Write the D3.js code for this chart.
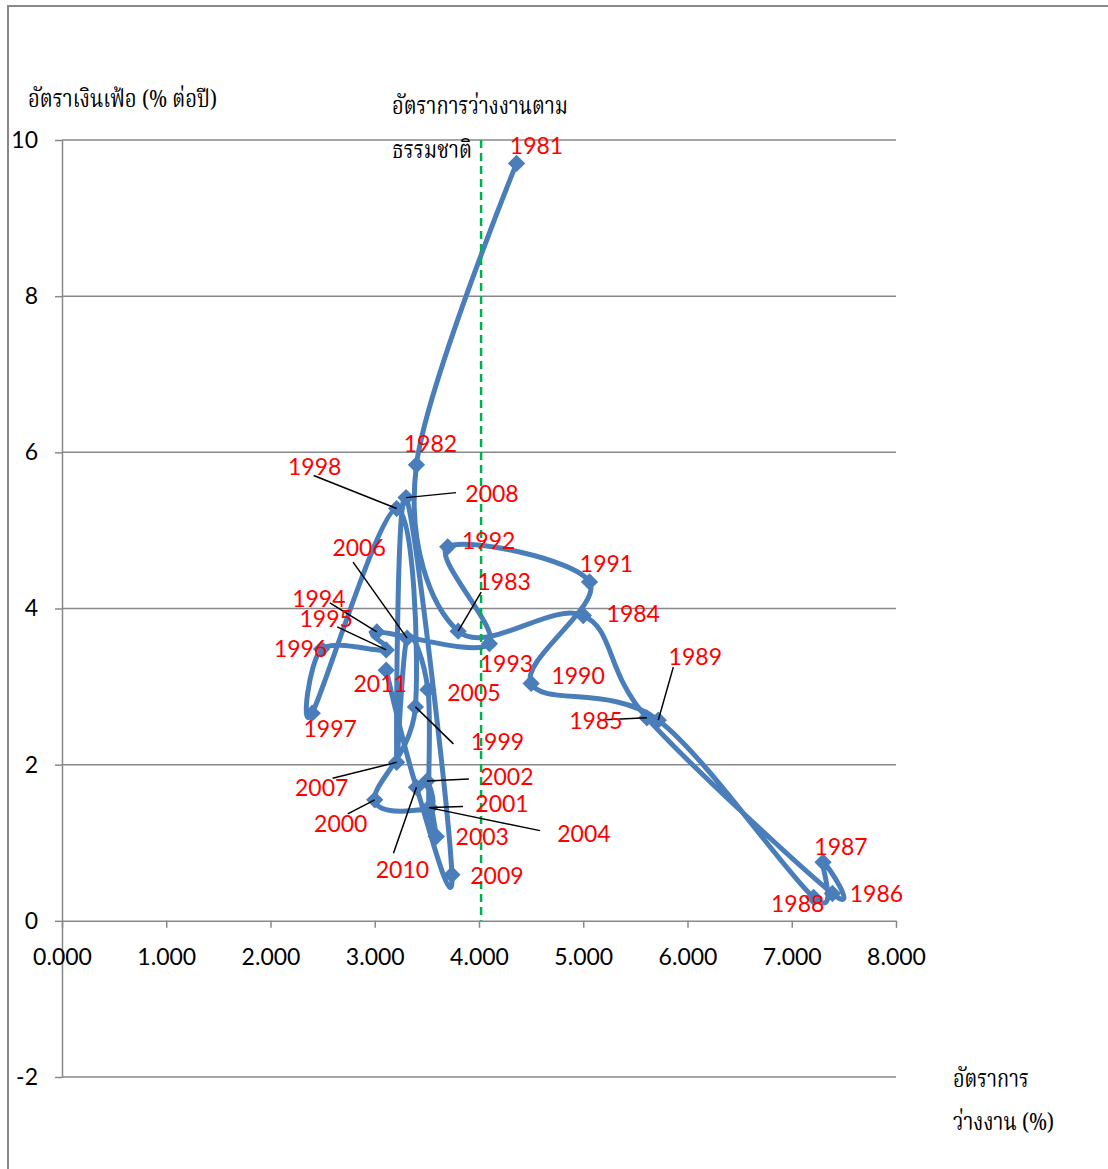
<!DOCTYPE html>
<html>
<head>
<meta charset="utf-8">
<script src="https://cdn.jsdelivr.net/npm/d3@7"></script>
<style>
  html, body { margin: 0; padding: 0; background: #fff; }
  svg { display: block; }
  .num { font-family: Lato, "Open Sans", "Liberation Sans", sans-serif; }
  .thai { font-family: "Noto Serif Thai", "Kinnari", "Norasi", "TH Sarabun New", "Angsana New", "Noto Sans Thai", "Garuda", "Loma", serif; fill: #000; }
</style>
</head>
<body>
<svg id="chart" width="1108" height="1169"></svg>
<script>
// Unemployment rate (%) and inflation (% per year), 1981–2011
const years = [1981,1982,1983,1984,1985,1986,1987,1988,1989,1990,
               1991,1992,1993,1994,1995,1996,1997,1998,1999,2000,
               2001,2002,2003,2004,2005,2006,2007,2008,2009,2010,2011];
const unemployment = [4.36,3.40,3.80,5.00,5.61,7.39,7.30,7.21,5.72,4.50,
                      5.06,3.70,4.10,3.02,3.11,2.49,2.40,3.21,3.39,3.00,
                      3.53,3.50,3.59,3.52,3.51,3.31,3.21,3.30,3.74,3.40,3.11];
const inflation = [9.70,5.84,3.71,3.91,2.60,0.35,0.75,0.30,2.57,3.04,
                   4.34,4.79,3.55,3.70,3.47,3.48,2.66,5.28,2.74,1.55,
                   1.45,1.79,1.08,1.45,2.96,3.62,2.03,5.42,0.59,1.71,3.21];
const naturalRate = 4.02;

const xTicks = [0,1,2,3,4,5,6,7,8];
const yTicks = [-2,0,2,4,6,8,10];

const yTitle = "อัตราเงินเฟ้อ (% ต่อปี)";
const naturalTitle = ["อัตราการว่างงานตาม", "ธรรมชาติ"];
const xTitle = ["อัตราการ", "ว่างงาน (%)"];

// label placement: [dx, dy] of the label centre from its marker,
// optional [lx, ly] start of a leader line relative to the label centre
const labelPlace = {
  1981:[20,-18], 1982:[14,-21], 1983:[46,-49,-23,10], 1984:[50,-2],
  1985:[-51,3,9,-1], 1986:[44,0], 1987:[18,-16], 1988:[-16,6],
  1989:[37,-63,-22,10], 1990:[47,-8], 1991:[17,-18], 1992:[41,-6],
  1993:[17,20], 1994:[-58,-33,11,4], 1995:[-60,-31,11,8], 1996:[-21,0],
  1997:[18,16], 1998:[-82,-42,-1,9], 1999:[82,35,-44,2], 2000:[-34,24,7,-10],
  2001:[72,-4,-39,3], 2002:[80,-4,-38,2], 2003:[46,0], 2004:[155,26,-44,-3],
  2005:[46,3], 2006:[-48,-90,-6,14], 2007:[-75,25,11,-9], 2008:[86,-4,-36,-1],
  2009:[45,1], 2010:[-14,82,-9,-16], 2011:[-6,14]
};

const points = years.map((yr, i) => ({year: yr, u: unemployment[i], p: inflation[i]}));

const svg = d3.select("#chart");
const x = d3.scaleLinear().domain([0, 8]).range([62, 896]);
const y = d3.scaleLinear().domain([-2, 10]).range([1077, 140]);

const gridColor = "#898989";

// outer frame
svg.append("rect")
  .attr("x", 8).attr("y", 6).attr("width", 1300).attr("height", 1300)
  .attr("fill", "none").attr("stroke", gridColor).attr("stroke-width", 2);

// horizontal gridlines
svg.append("g").selectAll("line")
  .data(yTicks.filter(d => d !== 0))
  .join("line")
  .attr("x1", x(0)).attr("x2", x(8))
  .attr("y1", d => y(d)).attr("y2", d => y(d))
  .attr("stroke", gridColor).attr("stroke-width", 1.5);

// y axis
const yAxis = svg.append("g")
  .attr("transform", `translate(${x(0)},0)`)
  .call(d3.axisLeft(y).tickValues(yTicks).tickSize(7).tickSizeOuter(0).tickPadding(17)
        .tickFormat(d => String(d)));
yAxis.select(".domain").attr("stroke", gridColor).attr("stroke-width", 1.5);
yAxis.selectAll(".tick line").attr("stroke", gridColor).attr("stroke-width", 1.5);
yAxis.selectAll(".tick text").attr("class", "num").attr("font-size", 23).attr("fill", "#000");

// x axis through zero inflation
const xAxis = svg.append("g")
  .attr("transform", `translate(0,${y(0)})`)
  .call(d3.axisBottom(x).tickValues(xTicks).tickSize(7).tickSizeOuter(0).tickPadding(21)
        .tickFormat(d3.format(".3f")));
xAxis.select(".domain").attr("stroke", gridColor).attr("stroke-width", 1.5);
xAxis.selectAll(".tick line").attr("stroke", gridColor).attr("stroke-width", 1.5);
xAxis.selectAll(".tick text").attr("class", "num").attr("font-size", 23).attr("fill", "#000");

// smoothed path through the yearly points
const line = d3.line()
  .x(d => x(d.u)).y(d => y(d.p))
  .curve(d3.curveCatmullRom.alpha(0));
svg.append("path")
  .datum(points)
  .attr("d", line)
  .attr("fill", "none")
  .attr("stroke", "#4a7ebb")
  .attr("stroke-width", 5)
  .attr("stroke-linejoin", "round");

// natural rate of unemployment
svg.append("line")
  .attr("x1", x(naturalRate)).attr("x2", x(naturalRate))
  .attr("y1", y(10)).attr("y2", y(0))
  .attr("stroke", "#00b050").attr("stroke-width", 2.5)
  .attr("stroke-dasharray", "8,5");

// diamond markers
const diamond = d3.symbol().type(d3.symbolSquare).size(150);
svg.append("g").selectAll("path")
  .data(points)
  .join("path")
  .attr("d", diamond)
  .attr("transform", d => `translate(${x(d.u)},${y(d.p)}) rotate(45)`)
  .attr("fill", "#4a7ebb");

// leader lines
svg.append("g").selectAll("line")
  .data(points.filter(d => labelPlace[d.year].length > 2))
  .join("line")
  .attr("x1", d => x(d.u) + labelPlace[d.year][0] + labelPlace[d.year][2])
  .attr("y1", d => y(d.p) + labelPlace[d.year][1] + labelPlace[d.year][3])
  .attr("x2", d => x(d.u)).attr("y2", d => y(d.p))
  .attr("stroke", "#000").attr("stroke-width", 1.5);

// year labels
svg.append("g").selectAll("text")
  .data(points)
  .join("text")
  .attr("class", "num")
  .attr("x", d => x(d.u) + labelPlace[d.year][0])
  .attr("y", d => y(d.p) + labelPlace[d.year][1])
  .attr("dy", "0.36em")
  .attr("text-anchor", "middle")
  .attr("font-size", 23)
  .attr("fill", "#ff0000")
  .text(d => d.year);

// titles (condensed to the width of a narrow Thai face)
function thaiText(g, str, tx, ty, w) {
  g.append("text").attr("class", "thai")
    .attr("x", tx).attr("y", ty)
    .attr("font-size", 24)
    .attr("textLength", w).attr("lengthAdjust", "spacingAndGlyphs")
    .text(str);
}
const titles = svg.append("g");
thaiText(titles, yTitle, 28, 107, 189);
thaiText(titles, naturalTitle[0], 392, 114, 176);
thaiText(titles, naturalTitle[1], 392, 158, 80);
thaiText(titles, xTitle[0], 953, 1087, 76);
thaiText(titles, xTitle[1], 953, 1130, 101);
</script>
</body>
</html>
